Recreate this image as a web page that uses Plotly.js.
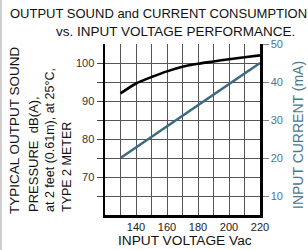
<!DOCTYPE html>
<html>
<head>
<meta charset="utf-8">
<script src="https://cdn.plot.ly/plotly-3.0.1.min.js"></script>
<style>
html,body{margin:0;padding:0;background:#fff;}
#chart{width:308px;height:250px;}
</style>
</head>
<body>
<div id="chart"></div>
<script>
// Data
var voltage = [130, 140, 150, 160, 170, 180, 190, 200, 210, 220];
var soundDb = [92.0, 94.6, 96.3, 97.8, 99.0, 99.8, 100.4, 101.0, 101.5, 102.0];
var currentVoltage = [130, 220];
var currentMa = [20, 45];

var xTickVals = [130, 140, 150, 160, 170, 180, 190, 200, 210, 220];
var xTickText = ['', '140', '', '160', '', '180', '', '200', '', '220'];
var yTickVals = [65, 70, 75, 80, 85, 90, 95, 100];
var yTickText = ['', '70', '', '80', '', '90', '', '100'];
var y2TickVals = [10, 20, 30, 40, 50];
var y2TickText = ['10', '20', '30', '40', '50'];

var FONT = 'Liberation Sans, Arial, Helvetica, sans-serif';
var BLUE = '#3d6a80';
var BLUE_TEXT = '#4a7890';

var traces = [
  {
    x: voltage, y: soundDb, type: 'scatter', mode: 'lines',
    line: {color: '#000', width: 2.6, shape: 'spline', smoothing: 0.6},
    yaxis: 'y', hoverinfo: 'skip', showlegend: false
  },
  {
    x: currentVoltage, y: currentMa, type: 'scatter', mode: 'lines',
    line: {color: BLUE, width: 2.6},
    yaxis: 'y2', hoverinfo: 'skip', showlegend: false
  }
];

// pixel helpers for paper coords (plot area: x 105..260, y 44..215)
function px(x){ return (x - 105) / 155; }
function py(y){ return (215 - y) / 171; }

var layout = {
  width: 308, height: 250,
  margin: {l: 105, r: 48, t: 44, b: 35, pad: 0},
  paper_bgcolor: '#fff', plot_bgcolor: '#fff',
  font: {family: FONT, size: 11, color: '#222'},
  showlegend: false,
  xaxis: {
    range: [120, 220], tickmode: 'array', tickvals: xTickVals, ticktext: xTickText,
    showgrid: true, gridcolor: '#555', gridwidth: 1, zeroline: false,
    showline: true, linecolor: '#000', linewidth: 2.5,
    ticks: '', tickfont: {family: FONT, size: 11, color: '#222'}, fixedrange: true
  },
  yaxis: {
    range: [60, 105], tickmode: 'array', tickvals: yTickVals, ticktext: yTickText,
    showgrid: true, gridcolor: '#555', gridwidth: 1, zeroline: false,
    showline: true, linecolor: '#000', linewidth: 2.5,
    ticks: 'outside', ticklen: 6, tickcolor: '#444', tickwidth: 1,
    tickfont: {family: FONT, size: 11, color: '#333'}, fixedrange: true
  },
  yaxis2: {
    range: [5, 50], overlaying: 'y', side: 'right', tickmode: 'array',
    tickvals: y2TickVals, ticktext: y2TickText,
    showgrid: false, zeroline: false,
    showline: true, linecolor: '#000', linewidth: 2.5,
    ticks: 'outside', ticklen: 6, tickcolor: '#6a8fa0', tickwidth: 1,
    tickfont: {family: FONT, size: 11, color: BLUE_TEXT}, fixedrange: true
  },
  shapes: [
    {type: 'line', xref: 'paper', yref: 'paper', x0: px(1), x1: px(1), y0: py(260), y1: py(-10),
     line: {color: '#cfcfcf', width: 2}}
  ],
  annotations: [
    {text: 'OUTPUT SOUND and CURRENT CONSUMPTION', xref: 'paper', yref: 'paper',
     x: px(8), y: py(14), xanchor: 'left', yanchor: 'middle', showarrow: false,
     font: {family: FONT, size: 13, color: '#111'}},
    {text: 'vs. INPUT VOLTAGE PERFORMANCE.', xref: 'paper', yref: 'paper',
     x: px(55), y: py(31), xanchor: 'left', yanchor: 'middle', showarrow: false, borderpad: 0,
     font: {family: FONT, size: 13.5, color: '#111'}},
    {text: 'TYPICAL OUTPUT SOUND', xref: 'paper', yref: 'paper', textangle: -90,
     x: px(14), y: py(216), xanchor: 'center', yanchor: 'bottom', showarrow: false,
     font: {family: FONT, size: 13.5, color: '#111'}},
    {text: 'PRESSURE  dB(A),', xref: 'paper', yref: 'paper', textangle: -90,
     x: px(33), y: py(214), xanchor: 'center', yanchor: 'bottom', showarrow: false,
     font: {family: FONT, size: 13, color: '#111'}},
    {text: 'at 2 feet (0.61m), at 25°C,', xref: 'paper', yref: 'paper', textangle: -90,
     x: px(50), y: py(214), xanchor: 'center', yanchor: 'bottom', showarrow: false,
     font: {family: FONT, size: 12.5, color: '#111'}},
    {text: 'TYPE 2 METER', xref: 'paper', yref: 'paper', textangle: -90,
     x: px(67), y: py(214), xanchor: 'center', yanchor: 'bottom', showarrow: false,
     font: {family: FONT, size: 12.5, color: '#111'}},
    {text: 'INPUT CURRENT (mA)', xref: 'paper', yref: 'paper', textangle: -90,
     x: px(298), y: py(135), xanchor: 'center', yanchor: 'middle', showarrow: false,
     font: {family: FONT, size: 14, color: BLUE_TEXT}},
    {text: 'INPUT VOLTAGE Vac', xref: 'paper', yref: 'paper',
     x: px(185), y: py(241), xanchor: 'center', yanchor: 'middle', showarrow: false,
     font: {family: FONT, size: 13.7, color: '#111'}}
  ]
};

Plotly.newPlot('chart', traces, layout, {staticPlot: true, displayModeBar: false});
</script>
</body>
</html>
